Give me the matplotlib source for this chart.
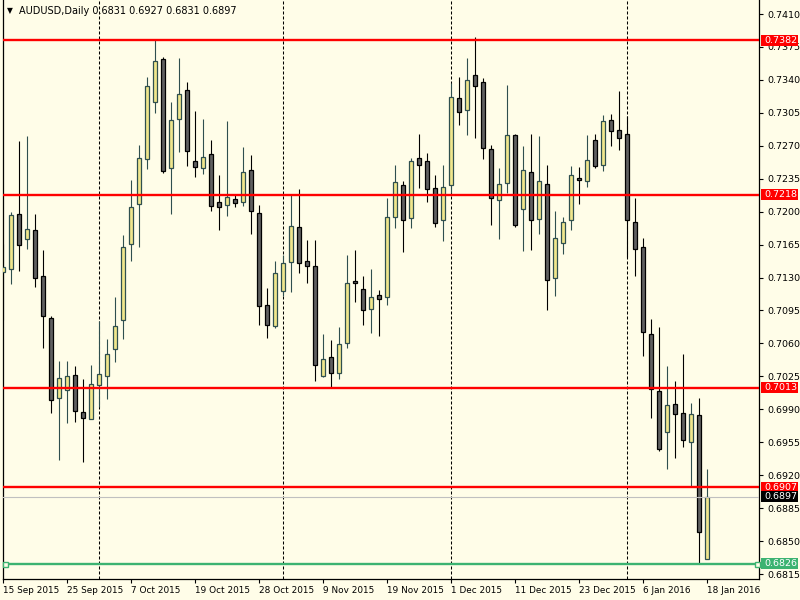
import matplotlib
matplotlib.use("Agg")
import matplotlib.pyplot as plt
from matplotlib.patches import Rectangle
from matplotlib.transforms import blended_transform_factory

symbol = "AUDUSD,Daily"

opens = [0.7136, 0.7139, 0.7198, 0.7171, 0.7181, 0.7132, 0.7087, 0.7002, 0.7011, 0.7026,
         0.6987, 0.6980, 0.7016, 0.7025, 0.7054, 0.7085, 0.7166, 0.7208, 0.7256, 0.7317,
         0.7362, 0.7246, 0.7298, 0.7329, 0.7254, 0.7246, 0.7261, 0.7210, 0.7207, 0.7213,
         0.7210, 0.7244, 0.7199, 0.7101, 0.7079, 0.7116, 0.7147, 0.7184, 0.7148, 0.7142,
         0.7025, 0.7046, 0.7029, 0.7060, 0.7126, 0.7118, 0.7097, 0.7111, 0.7109, 0.7194,
         0.7228, 0.7193, 0.7257, 0.7254, 0.7225, 0.7191, 0.7228, 0.7321, 0.7308, 0.7345,
         0.7338, 0.7267, 0.7212, 0.7230, 0.7281, 0.7203, 0.7242, 0.7192, 0.7229, 0.7130,
         0.7167, 0.7191, 0.7236, 0.7233, 0.7276, 0.7250, 0.7297, 0.7287, 0.7283, 0.7189,
         0.7162, 0.7070, 0.7009, 0.6966, 0.6996, 0.6986, 0.6955, 0.6984, 0.6831]

highs = [0.7166, 0.7200, 0.7275, 0.7280, 0.7197, 0.7159, 0.7089, 0.7041, 0.7041, 0.7036,
         0.7022, 0.7037, 0.7084, 0.7065, 0.7109, 0.7175, 0.7234, 0.7271, 0.7343, 0.7382,
         0.7364, 0.7317, 0.7363, 0.7338, 0.7307, 0.7298, 0.7276, 0.7239, 0.7296, 0.7219,
         0.7269, 0.7260, 0.7207, 0.7119, 0.7148, 0.7154, 0.7219, 0.7224, 0.7170, 0.7170,
         0.7070, 0.7064, 0.7077, 0.7154, 0.7159, 0.7132, 0.7139, 0.7117, 0.7215, 0.7250,
         0.7233, 0.7257, 0.7283, 0.7262, 0.7239, 0.7250, 0.7337, 0.7343, 0.7363, 0.7386,
         0.7342, 0.7271, 0.7246, 0.7335, 0.7282, 0.7270, 0.7283, 0.7280, 0.7250, 0.7201,
         0.7194, 0.7249, 0.7247, 0.7281, 0.7283, 0.7303, 0.7304, 0.7328, 0.7302, 0.7215,
         0.7172, 0.7086, 0.7077, 0.7036, 0.7020, 0.7049, 0.6997, 0.7002, 0.6927]

lows = [0.7085, 0.7123, 0.7137, 0.7160, 0.7120, 0.7055, 0.6986, 0.6936, 0.6975, 0.6977,
        0.6934, 0.6980, 0.6992, 0.7001, 0.7040, 0.7065, 0.7148, 0.7162, 0.7245, 0.7305,
        0.7241, 0.7197, 0.7263, 0.7249, 0.7237, 0.7240, 0.7201, 0.7181, 0.7195, 0.7205,
        0.7206, 0.7176, 0.7080, 0.7066, 0.7076, 0.7110, 0.7115, 0.7135, 0.7124, 0.7020,
        0.7024, 0.7014, 0.7022, 0.7055, 0.7104, 0.7080, 0.7071, 0.7068, 0.7101, 0.7183,
        0.7157, 0.7183, 0.7225, 0.7210, 0.7184, 0.7169, 0.7220, 0.7292, 0.7281, 0.7278,
        0.7256, 0.7186, 0.7171, 0.7220, 0.7184, 0.7158, 0.7159, 0.7176, 0.7096, 0.7110,
        0.7155, 0.7181, 0.7208, 0.7226, 0.7246, 0.7243, 0.7270, 0.7266, 0.7152, 0.7132,
        0.7047, 0.6981, 0.6946, 0.6927, 0.6938, 0.6950, 0.6909, 0.6826, 0.6831]

closes = [0.7141, 0.7196, 0.7165, 0.7182, 0.7130, 0.7089, 0.7000, 0.7023, 0.7025, 0.6988,
          0.6981, 0.7017, 0.7028, 0.7049, 0.7079, 0.7162, 0.7205, 0.7257, 0.7334, 0.7360,
          0.7243, 0.7297, 0.7325, 0.7264, 0.7247, 0.7258, 0.7206, 0.7205, 0.7216, 0.7209,
          0.7242, 0.7201, 0.7100, 0.7080, 0.7135, 0.7145, 0.7185, 0.7145, 0.7142, 0.7037,
          0.7043, 0.7029, 0.7059, 0.7124, 0.7124, 0.7096, 0.7109, 0.7107, 0.7194, 0.7232,
          0.7191, 0.7254, 0.7250, 0.7224, 0.7188, 0.7226, 0.7322, 0.7306, 0.7340, 0.7334,
          0.7268, 0.7215, 0.7229, 0.7281, 0.7186, 0.7244, 0.7191, 0.7233, 0.7127, 0.7172,
          0.7189, 0.7239, 0.7234, 0.7255, 0.7249, 0.7296, 0.7286, 0.7278, 0.7191, 0.7160,
          0.7072, 0.7012, 0.6948, 0.6995, 0.6985, 0.6957, 0.6985, 0.6860, 0.6897]

date_labels = ["15 Sep 2015", "25 Sep 2015", "7 Oct 2015", "19 Oct 2015", "28 Oct 2015",
               "9 Nov 2015", "19 Nov 2015", "1 Dec 2015", "11 Dec 2015", "23 Dec 2015",
               "6 Jan 2016", "18 Jan 2016"]
date_label_bars = [0, 8, 16, 24, 32, 40, 48, 56, 64, 72, 80, 88]
month_separator_bars = [12, 35, 56, 78]

price_ticks = [0.7410, 0.7375, 0.7340, 0.7305, 0.7270, 0.7235, 0.7200, 0.7165, 0.7130,
               0.7095, 0.7060, 0.7025, 0.6990, 0.6955, 0.6920, 0.6885, 0.6850, 0.6815]

resistance_levels = [0.7382, 0.7218, 0.7013, 0.6907]
support_level = 0.6826
bid_price = 0.6897

BG = "#FFFDE8"
BULL_FILL = "#F0E68C"
BULL_EDGE = "#2F4F4F"
BEAR_FILL = "#606060"
BEAR_EDGE = "#000000"

W, H = 800, 600
fig = plt.figure(figsize=(8, 6), dpi=100, facecolor=BG)
ax_left, ax_right, ax_top, ax_bottom = 2.7, 759.0, 0.0, 579.0
ax = fig.add_axes([ax_left / W, (H - ax_bottom) / H,
                   (ax_right - ax_left) / W, (ax_bottom - ax_top) / H])
ax.set_facecolor(BG)

ymax = 0.74249
ymin = ymax - 579 * 0.00010625
ax.set_ylim(ymin, ymax)
xmin = -0.0625
ax.set_xlim(xmin, xmin + (ax_right - ax_left) / 8.0)

# month separators
for b in month_separator_bars:
    ax.axvline(b, color="black", lw=0.75, dashes=(2.9, 1.9), zorder=1)

# candles
body_w = 0.5
for i, (o, h, l, c) in enumerate(zip(opens, highs, lows, closes)):
    bull = c >= o
    edge = BULL_EDGE if bull else BEAR_EDGE
    fill = BULL_FILL if bull else BEAR_FILL
    ax.vlines(i, l, h, color=edge, lw=0.8, zorder=2)
    bottom = min(o, c)
    height = max(abs(c - o), 0.00003)
    ax.add_patch(Rectangle((i - body_w / 2, bottom), body_w, height,
                           facecolor=fill, edgecolor=edge, lw=0.9, zorder=3))

# horizontal levels
for lv in resistance_levels:
    ax.axhline(lv, color="#FF0000", lw=1.7, zorder=5)
ax.axhline(bid_price, color="#C0C0C0", lw=0.8, zorder=4)
ax.axhline(support_level, color="#3CB371", lw=1.7, zorder=5)
trans = blended_transform_factory(ax.transAxes, ax.transData)
for xf in [(5 - ax_left) / (ax_right - ax_left), (756.5 - ax_left) / (ax_right - ax_left)]:
    ax.plot([xf], [support_level], marker="s", ms=3.6, mfc=BG, mec="#3CB371",
            mew=1.0, transform=trans, clip_on=False, zorder=6)

# axes styling
ax.spines["top"].set_visible(False)
for s in ["left", "right", "bottom"]:
    ax.spines[s].set_linewidth(0.9)
    ax.spines[s].set_color("black")

ax.yaxis.tick_right()
ax.set_yticks(price_ticks)
ax.set_yticklabels([f"{p:.4f}" for p in price_ticks])
ax.tick_params(axis="y", direction="out", length=3, width=0.8, pad=3,
               labelsize=6.8, colors="black")
ax.set_xticks(date_label_bars)
ax.set_xticklabels(date_labels)
ax.tick_params(axis="x", direction="out", length=3, width=0.8, pad=2,
               labelsize=6.4, colors="black")
for lab in ax.get_xticklabels():
    lab.set_ha("left")

# price label boxes on the right axis
box_x0 = (761 - ax_left) / (ax_right - ax_left)
box_w = 37 / (ax_right - ax_left)
box_h = 11 * 0.00010625
txt_x = (764 - ax_left) / (ax_right - ax_left)
labels = [(lv, "#FF0000") for lv in resistance_levels] + [(bid_price, "#000000"), (support_level, "#3CB371")]
for lv, col in labels:
    ax.add_patch(Rectangle((box_x0, lv - box_h / 2), box_w, box_h, transform=trans,
                           facecolor=col, edgecolor="none", clip_on=False, zorder=10))
    ax.text(txt_x, lv, f"{lv:.4f}", transform=trans, color="white", fontsize=6.8,
            va="center", ha="left", clip_on=False, zorder=11)

# header
fig.text(7 / W, 1 - 11 / H, "\u25BC", fontsize=5.5, va="center", ha="left", color="black")
fig.text(19 / W, 1 - 11 / H,
         f"{symbol} {opens[-1]:.4f} {highs[-1]:.4f} {lows[-1]:.4f} {closes[-1]:.4f}",
         fontsize=7, va="center", ha="left", color="black")

fig.savefig("out.png", dpi=100, facecolor=BG)
